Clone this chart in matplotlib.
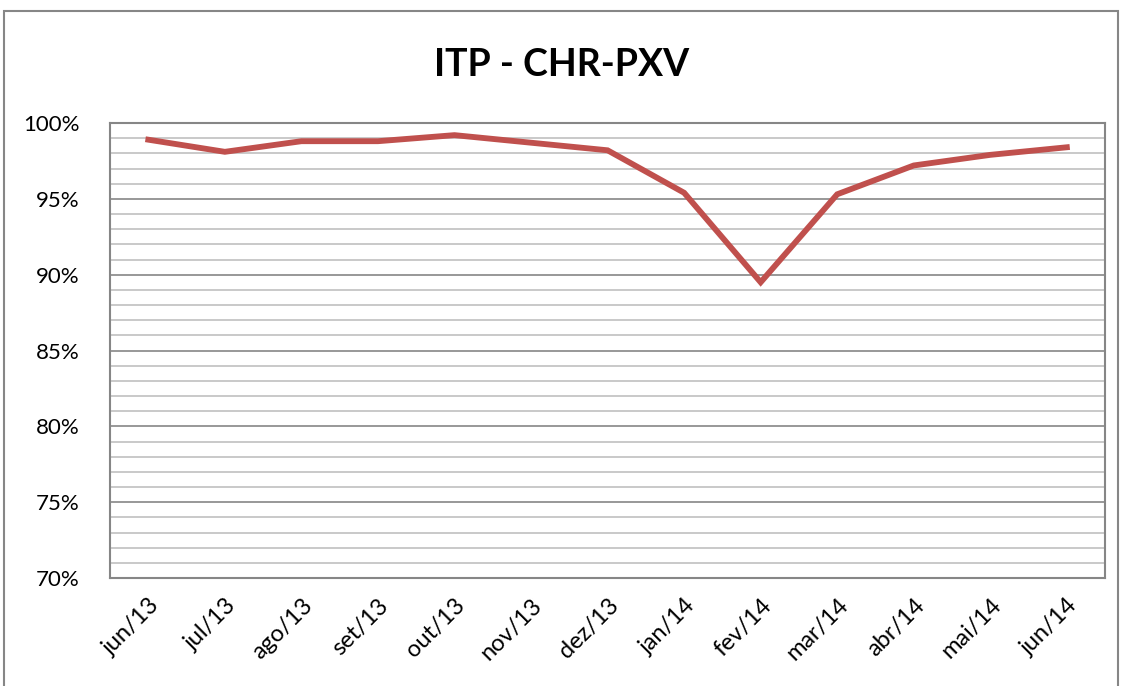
import numpy as np
import matplotlib
matplotlib.use("Agg")
import matplotlib.pyplot as plt
import matplotlib.transforms as mtransforms
from matplotlib.ticker import MultipleLocator, FuncFormatter
from matplotlib.patches import Rectangle

plt.rcParams['font.family'] = ['Lato', 'DejaVu Sans']

# data
months = ['jun/13', 'jul/13', 'ago/13', 'set/13', 'out/13', 'nov/13', 'dez/13',
          'jan/14', 'fev/14', 'mar/14', 'abr/14', 'mai/14', 'jun/14']
itp = [98.9, 98.1, 98.8, 98.8, 99.2, 98.7, 98.2, 95.4, 89.5, 95.3, 97.2, 97.9, 98.4]

fig = plt.figure(figsize=(11.24, 6.86), dpi=100)
ax = fig.add_axes([0.0979, 0.1574, 0.8853, 0.6633])

x = np.arange(len(months))
ax.plot(x, itp, color='#C0504D', lw=4.2, solid_joinstyle='miter', zorder=3)

ax.set_xlim(-0.5, len(months) - 0.5)
ax.set_ylim(70, 100)
ax.set_xticks(x)
ax.set_xticklabels(months, rotation=45, ha='right', rotation_mode='anchor', fontsize=17)
# shift labels a bit right so they sit centred under the ticks
shift = mtransforms.ScaledTranslation(0.2, 0, fig.dpi_scale_trans)
for lbl in ax.get_xticklabels():
    lbl.set_transform(lbl.get_transform() + shift)
ax.yaxis.set_major_locator(MultipleLocator(5))
ax.yaxis.set_minor_locator(MultipleLocator(1))
ax.yaxis.set_major_formatter(FuncFormatter(lambda v, p: f"{v:.0f}%"))
ax.tick_params(axis='y', labelsize=16, length=0, which='both', pad=22)
ax.tick_params(axis='x', length=0, pad=12)

ax.grid(which='major', axis='y', color='#868686', lw=1.2)
ax.grid(which='minor', axis='y', color='#c0c0c0', lw=1.2)
ax.set_axisbelow(True)
for s in ax.spines.values():
    s.set_color('#868686')
    s.set_linewidth(1.5)

fig.text(0.5, 0.905, 'ITP - CHR-PXV', ha='center', va='center', fontsize=27, fontweight='bold')

# outer chart border
fig.patches.append(Rectangle((0.004, -0.01), 0.991, 0.994, transform=fig.transFigure,
                             fill=False, edgecolor='#868686', lw=1.5))

fig.savefig('out.png', dpi=100)
